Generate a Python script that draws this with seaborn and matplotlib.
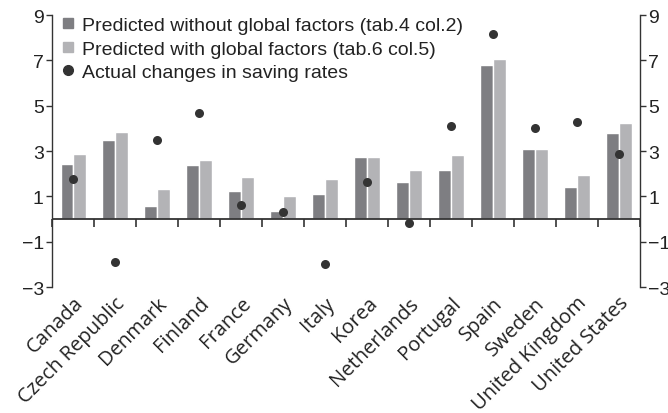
import numpy as np
import pandas as pd
import matplotlib
matplotlib.use("Agg")
import matplotlib.pyplot as plt
from matplotlib.lines import Line2D
import seaborn as sns

# --- datos ---
countries = ["Canada", "Czech Republic", "Denmark", "Finland", "France", "Germany",
             "Italy", "Korea", "Netherlands", "Portugal", "Spain", "Sweden",
             "United Kingdom", "United States"]
pred_without = [2.45, 3.51, 0.56, 2.37, 1.26, 0.38, 1.09, 2.72, 1.62, 2.19, 6.81, 3.11, 1.40, 3.82]
pred_with = [2.89, 3.85, 1.31, 2.63, 1.88, 1.00, 1.75, 2.72, 2.15, 2.85, 7.08, 3.11, 1.93, 4.26]
actual = [1.76, -1.88, 3.47, 4.70, 0.62, 0.33, -1.97, 1.66, -0.15, 4.13, 8.18, 4.04, 4.30, 2.89]

series_names = ["Predicted without global factors (tab.4 col.2)",
                "Predicted with global factors (tab.6 col.5)",
                "Actual changes in saving rates"]
yticks = [9, 7, 5, 3, 1, -1, -3]

c_dark = "#7e7e82"
c_light = "#b3b3b6"
c_dot = "#333333"
c_axis = "#333333"

df = pd.DataFrame({
    "country": countries * 2,
    "value": pred_without + pred_with,
    "series": [series_names[0]] * len(countries) + [series_names[1]] * len(countries),
})

sns.set_style("white")
plt.rcParams["font.family"] = ["Liberation Sans", "DejaVu Sans"]

fig = plt.figure(figsize=(6.68, 4.14), dpi=100)
ax = fig.add_axes([0.078, 0.304, 0.880, 0.657])

sns.barplot(data=df, x="country", y="value", hue="series", order=countries,
            hue_order=series_names[:2], palette=[c_dark, c_light], width=0.6,
            saturation=1, errorbar=None, ax=ax, legend=False)
sns.stripplot(x=countries, y=actual, order=countries, jitter=False, color=c_dot,
              size=6.5, ax=ax, zorder=5)

n = len(countries)
ax.set_xlim(-0.5, n - 0.5)
ax.set_ylim(-3, 9)
ax.set_yticks(yticks)
ax.set_xlabel("")
ax.set_ylabel("")

# linea del cero con marcas entre paises
ax.axhline(0, color=c_axis, linewidth=1.3, zorder=4)
bounds = np.arange(-0.5, n, 1)
ax.plot(bounds, np.zeros_like(bounds), linestyle="none", marker=3, markersize=6,
        markeredgewidth=1.2, color=c_axis, zorder=4, clip_on=False)

for s in ["top", "bottom", "right"]:
    ax.spines[s].set_visible(False)
ax.spines["left"].set_color(c_axis)
ax.spines["left"].set_linewidth(1.0)
ax.tick_params(axis="y", left=True, length=4, width=1, color=c_axis,
               labelsize=14, labelcolor="#222222", pad=2)
ax.tick_params(axis="x", bottom=False, length=0, pad=4)
ax.set_xticks(range(n))
ax.set_xticklabels(countries, rotation=45, ha="right", rotation_mode="anchor",
                   fontsize=14.5, family=["Open Sans", "DejaVu Sans"], color="#222222")

# eje derecho
ax2 = ax.twinx()
ax2.set_ylim(ax.get_ylim())
ax2.set_yticks(yticks)
for s in ["top", "bottom", "left"]:
    ax2.spines[s].set_visible(False)
ax2.spines["right"].set_color(c_axis)
ax2.spines["right"].set_linewidth(1.0)
ax2.tick_params(axis="y", right=True, length=4, width=1, color=c_axis,
                labelsize=14, labelcolor="#222222", pad=2)

handles = [
    Line2D([], [], marker="s", linestyle="none", color=c_dark, markersize=7.5),
    Line2D([], [], marker="s", linestyle="none", color=c_light, markersize=7.5),
    Line2D([], [], marker="o", linestyle="none", color=c_dot, markersize=7),
]
ax.legend(handles, series_names, loc="upper left", bbox_to_anchor=(-0.01, 1.045),
          frameon=False, fontsize=14, handlelength=0.8, handletextpad=0.35,
          labelspacing=0.3, borderaxespad=0.3, labelcolor="#222222")

fig.savefig("out.png", dpi=100)
